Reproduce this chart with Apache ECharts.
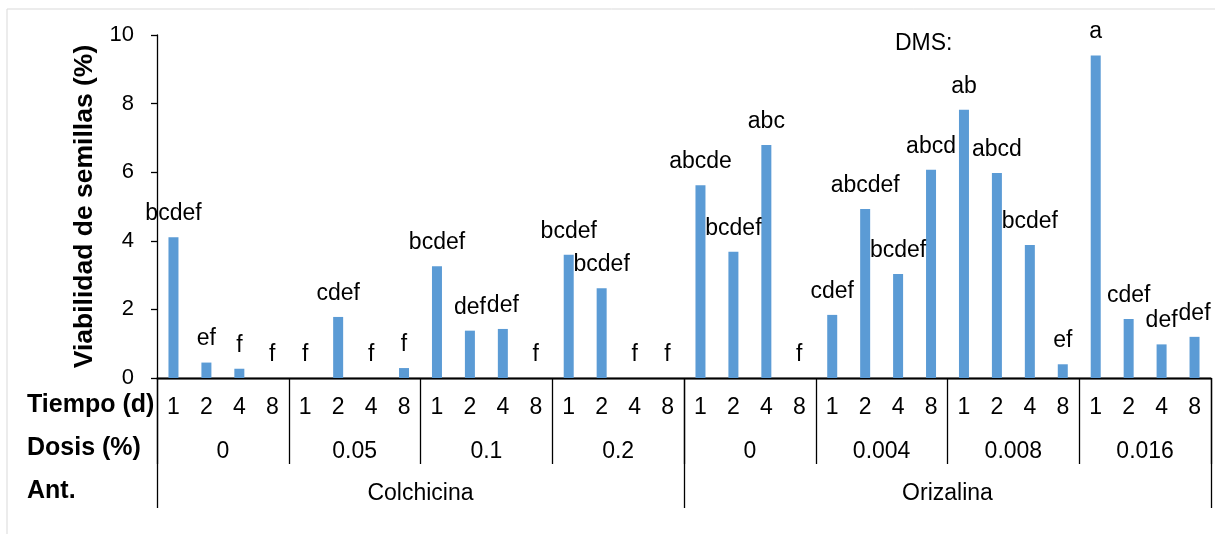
<!DOCTYPE html>
<html>
<head>
<meta charset="utf-8">
<script src="https://cdn.jsdelivr.net/npm/echarts@6/dist/echarts.min.js"></script>
<style>
  html, body { margin: 0; padding: 0; background: #fff; }
  #chart { width: 1215px; height: 534px; }
</style>
</head>
<body>
<div id="chart"></div>
<script>
// ---- data ----
const tiempo = ['1', '2', '4', '8'];
const dosis = ['0', '0.05', '0.1', '0.2', '0', '0.004', '0.008', '0.016'];
const antimitotico = ['Colchicina', 'Orizalina'];
const viabilidad = [
  4.10, 0.45, 0.27, 0,
  0, 1.78, 0, 0.29,
  3.26, 1.38, 1.43, 0,
  3.59, 2.62, 0, 0,
  5.62, 3.68, 6.79, 0,
  1.84, 4.93, 3.03, 6.07,
  7.82, 5.98, 3.88, 0.40,
  9.40, 1.72, 0.98, 1.20
];
const letras = [
  'bcdef', 'ef', 'f', 'f',
  'f', 'cdef', 'f', 'f',
  'bcdef', 'def', 'def', 'f',
  'bcdef', 'bcdef', 'f', 'f',
  'abcde', 'bcdef', 'abc', 'f',
  'cdef', 'abcdef', 'bcdef', 'abcd',
  'ab', 'abcd', 'bcdef', 'ef',
  'a', 'cdef', 'def', 'def'
];
const yTicks = { min: 0, max: 10, interval: 2 };

// ---- build ----
const categories = [];
dosis.forEach(() => tiempo.forEach(t => categories.push(t)));

const FONT = '"Liberation Sans", Arial, sans-serif';
const FS = 23;
const chart = echarts.init(document.getElementById('chart'), null, { renderer: 'canvas' });

const baseAxis = {
  type: 'category',
  position: 'bottom',
  boundaryGap: true,
  axisLine: { show: true, lineStyle: { color: '#000', width: 1.3 } },
  splitLine: { show: false }
};

chart.setOption({
  animation: false,
  backgroundColor: '#fff',
  grid: { left: 157, right: 4, top: 35, bottom: 156, containLabel: false },
  xAxis: [
    Object.assign({}, baseAxis, {
      data: categories,
      axisTick: { show: false },
      axisLabel: { interval: 0, margin: 18, color: '#000', fontSize: FS, lineHeight: FS, fontFamily: FONT }
    }),
    Object.assign({}, baseAxis, {
      data: dosis,
      axisTick: { show: true, length: 86, lineStyle: { color: '#000', width: 1.3 } },
      axisLabel: { interval: 0, margin: 62, color: '#000', fontSize: FS, lineHeight: FS, fontFamily: FONT }
    }),
    Object.assign({}, baseAxis, {
      data: antimitotico,
      axisTick: { show: true, length: 130, lineStyle: { color: '#000', width: 1.3 } },
      axisLabel: { interval: 0, margin: 104, color: '#000', fontSize: FS, lineHeight: FS, fontFamily: FONT }
    })
  ],
  yAxis: {
    type: 'value',
    min: yTicks.min, max: yTicks.max, interval: yTicks.interval,
    name: 'Viabilidad de semillas (%)',
    nameLocation: 'middle',
    nameGap: 57,
    nameRotate: 90,
    nameTextStyle: { color: '#000', fontSize: 26.5, fontWeight: 'bold', fontFamily: FONT },
    axisLine: { show: true, lineStyle: { color: '#000', width: 1.3 } },
    axisTick: { show: true, length: 6, lineStyle: { color: '#000', width: 1.3 } },
    axisLabel: { margin: 23, color: '#000', fontSize: 22, fontFamily: FONT },
    splitLine: { show: false }
  },
  series: [{
    type: 'bar',
    xAxisIndex: 0,
    data: viabilidad,
    barWidth: 10,
    itemStyle: { color: '#5B9BD5' },
    label: {
      show: true,
      position: 'top',
      distance: 12,
      color: '#000',
      fontSize: FS,
      fontFamily: FONT,
      formatter: p => letras[p.dataIndex]
    }
  }],
  graphic: [
    { type: 'rect', shape: { x: 7, y: 9, width: 1215, height: 540 }, style: { fill: 'none', stroke: '#d9d9d9', lineWidth: 1 }, z: -10, silent: true },
    { type: 'text', left: 27, top: 393, style: { text: 'Tiempo (d)', fill: '#000', font: 'bold 25px ' + FONT } },
    { type: 'text', left: 27, top: 436, style: { text: 'Dosis (%)', fill: '#000', font: 'bold 25px ' + FONT } },
    { type: 'text', left: 27, top: 479, style: { text: 'Ant.', fill: '#000', font: 'bold 25px ' + FONT } },
    { type: 'text', left: 895, top: 32, style: { text: 'DMS:', fill: '#000', font: FS + 'px ' + FONT } }
  ]
});
</script>
</body>
</html>
